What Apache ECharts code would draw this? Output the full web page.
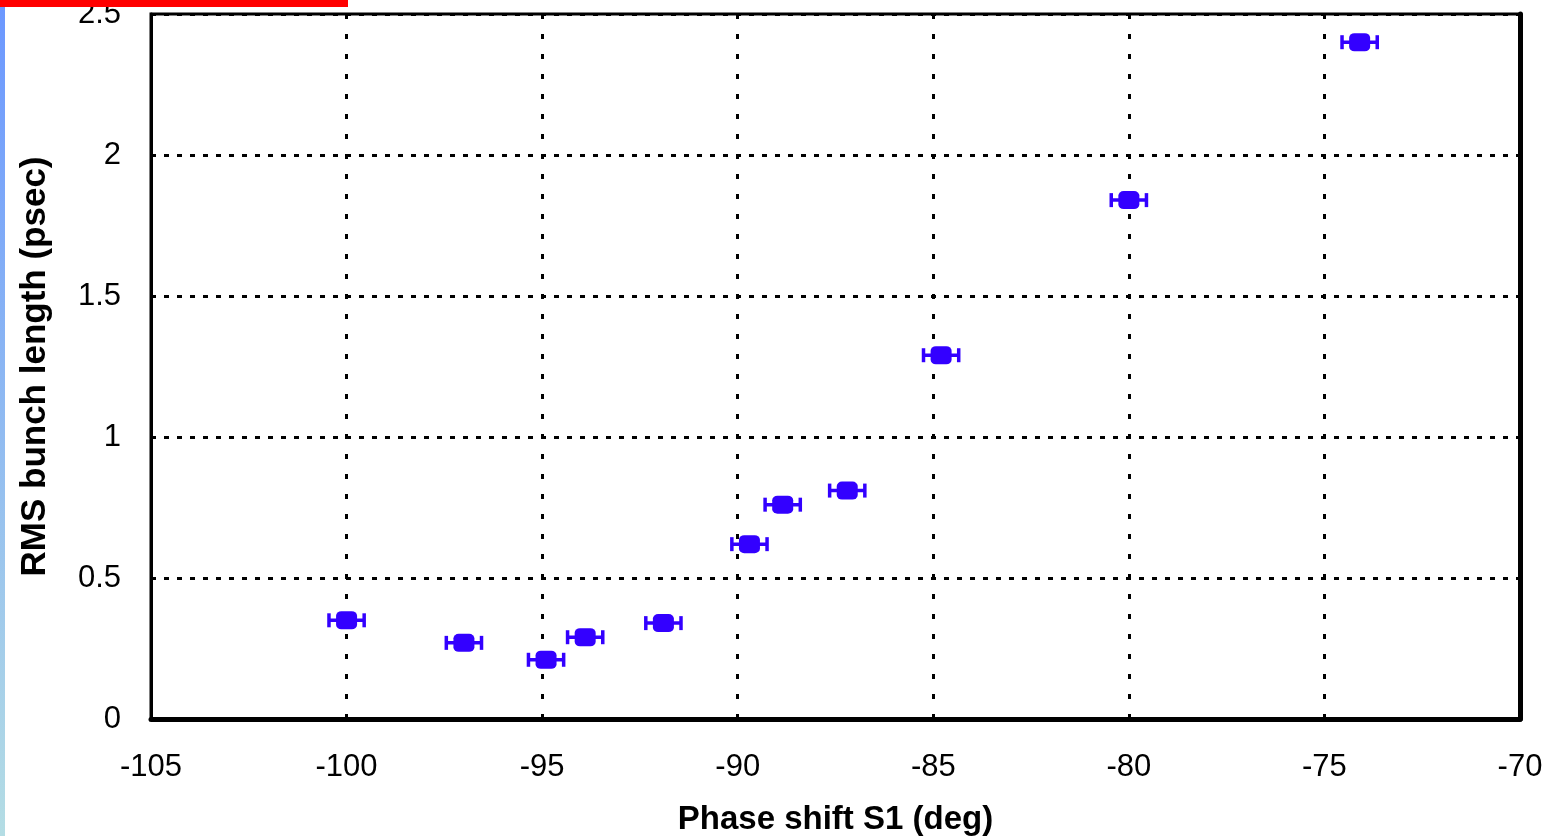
<!DOCTYPE html>
<html>
<head>
<meta charset="utf-8">
<title>RMS bunch length vs phase shift S1</title>
<script src="https://cdn.jsdelivr.net/npm/echarts@6/dist/echarts.min.js"></script>
<style>
  html, body { margin: 0; padding: 0; background: #fff; }
  #chart { width: 1562px; height: 836px; }
</style>
</head>
<body>
<div id="chart"></div>
<script>
// Measured points: phase shift S1 (deg) vs RMS bunch length (psec)
const phaseShift  = [-100.0, -97.0, -94.9, -93.9, -91.9, -89.7, -88.85, -87.2, -84.8, -80.0, -74.1];
const bunchLength = [0.35, 0.27, 0.21, 0.29, 0.34, 0.62, 0.76, 0.81, 1.29, 1.84, 2.40];
const phaseErr    = [0.45, 0.45, 0.45, 0.45, 0.45, 0.45, 0.45, 0.45, 0.45, 0.45, 0.45];

// Axis ranges and tick spacing
const xRange = { min: -105, max: -70, interval: 5 };
const yRange = { min: 0, max: 2.5, interval: 0.5 };

const markColor = '#3300ff';
const fontFamily = '"Liberation Sans", Arial, sans-serif';

const points = phaseShift.map((x, i) => [x, bunchLength[i], phaseErr[i]]);

const chart = echarts.init(document.getElementById('chart'), null, { renderer: 'canvas' });

chart.setOption({
  animation: false,
  backgroundColor: '#ffffff',
  grid: {
    left: 151, right: 42, top: 14, bottom: 117,
    outerBoundsMode: 'none',
    containLabel: false,
    show: true, borderColor: '#000', borderWidth: 3, backgroundColor: 'transparent'
  },
  xAxis: {
    type: 'value',
    min: xRange.min, max: xRange.max, interval: xRange.interval,
    name: 'Phase shift S1 (deg)',
    nameLocation: 'middle',
    nameGap: 84,
    nameTextStyle: { color: '#000', fontSize: 33, fontWeight: 'bold', fontFamily },
    axisLine: { show: true, onZero: false, lineStyle: { color: '#000', width: 5 } },
    axisTick: { show: false },
    axisLabel: { color: '#000', fontSize: 31, fontFamily, margin: 33 },
    splitLine: { show: true, lineStyle: { color: '#000', width: 3, type: [5, 15] } }
  },
  yAxis: [{
    type: 'value',
    min: yRange.min, max: yRange.max, interval: yRange.interval,
    name: 'RMS bunch length (psec)',
    nameLocation: 'middle',
    nameGap: 98,
    nameRotate: 90,
    nameTextStyle: { color: '#000', fontSize: 35, fontWeight: 'bold', fontFamily },
    axisLine: { show: true, lineStyle: { color: '#000', width: 3 } },
    axisTick: { show: false },
    axisLabel: { color: '#000', fontSize: 31, fontFamily, margin: 30 },
    splitLine: { show: true, lineStyle: { color: '#000', width: 3, type: [5, 8] } }
  }, {
    type: 'value',
    position: 'right',
    min: yRange.min, max: yRange.max, interval: yRange.interval,
    axisLine: { show: true, lineStyle: { color: '#000', width: 5 } },
    axisTick: { show: false },
    axisLabel: { show: false },
    splitLine: { show: false }
  }],
  series: [{
    // horizontal error bars with end caps
    type: 'custom',
    data: points,
    encode: { x: 0, y: 1 },
    z: 3,
    renderItem: function (params, api) {
      const x = api.value(0), y = api.value(1), e = api.value(2);
      const a = api.coord([x - e, y]);
      const b = api.coord([x + e, y]);
      const cap = 7;
      const style = { stroke: markColor, lineWidth: 3.5 };
      return {
        type: 'group',
        children: [
          { type: 'line', shape: { x1: a[0], y1: a[1], x2: b[0], y2: b[1] }, style },
          { type: 'line', shape: { x1: a[0], y1: a[1] - cap, x2: a[0], y2: a[1] + cap }, style },
          { type: 'line', shape: { x1: b[0], y1: b[1] - cap, x2: b[0], y2: b[1] + cap }, style }
        ]
      };
    }
  }, {
    type: 'scatter',
    data: points.map(p => [p[0], p[1]]),
    symbol: 'roundRect',
    symbolSize: [21, 18],
    itemStyle: { color: markColor, opacity: 1 },
    z: 4
  }],
  graphic: [
    {
      // thin gradient strip down the left edge of the slide
      type: 'rect', left: 0, top: 0, z: 100,
      shape: { width: 5, height: 836 },
      style: {
        fill: new echarts.graphic.LinearGradient(0, 0, 0, 1, [
          { offset: 0, color: '#6b97ff' },
          { offset: 1, color: '#b4dde4' }
        ])
      }
    },
    {
      // red banner at the top left
      type: 'rect', left: 0, top: 0, z: 100,
      shape: { width: 348, height: 7 },
      style: { fill: '#ff0000' }
    }
  ]
});
</script>
</body>
</html>
